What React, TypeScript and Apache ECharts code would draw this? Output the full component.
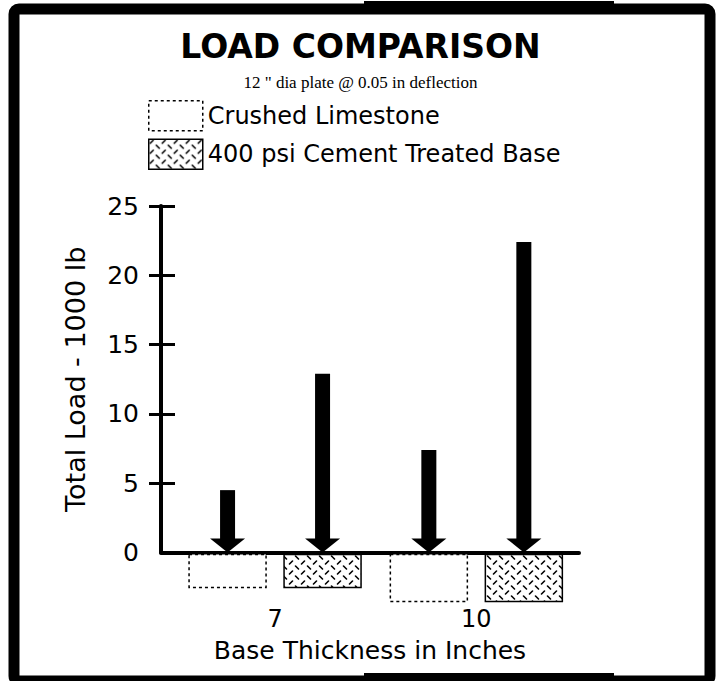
import React, { useEffect, useRef } from 'react';
import * as echarts from 'echarts';

// ---- data ----
const thicknessInches = [7, 10]; // base thickness categories (in)
const seriesNames = ['Crushed Limestone', '400 psi Cement Treated Base'];
const crushedLimestoneLoad = [4.5, 7.4]; // total load, 1000 lb
const cementTreatedLoad = [12.9, 22.4]; // total load, 1000 lb
const loadTickValues = [5, 10, 15, 20, 25];
const titleText = 'LOAD COMPARISON';
const subtitleText = '12 " dia plate @ 0.05 in deflection';
const yAxisName = 'Total Load - 1000 lb';
const xAxisName = 'Base Thickness in Inches';

const FONT = 'DejaVu Sans';

const hatchSvg =
  '<svg xmlns="http://www.w3.org/2000/svg" width="12" height="10">' +
  '<g stroke="#000" stroke-width="1.6" stroke-linecap="round" fill="none">' +
  '<line x1="1.5" y1="4" x2="4.5" y2="1"/>' +
  '<line x1="7.5" y1="6" x2="10.5" y2="9"/>' +
  '</g></svg>';
const hatchFill: any = {
  image: 'data:image/svg+xml;charset=utf-8,' + encodeURIComponent(hatchSvg),
  repeat: 'repeat',
  imageWidth: 12,
  imageHeight: 10,
};

const ARROW_OFFSET = 47.5;
const BOX_W = 77;

function arrowSeries(name: string, values: number[], offset: number) {
  return {
    type: 'custom',
    name,
    xAxisIndex: 0,
    yAxisIndex: 0,
    data: thicknessInches.map((t, i) => [t, values[i]]),
    itemStyle: { color: '#000' },
    renderItem: (_params: any, api: any) => {
      const top = api.coord([api.value(0), api.value(1)]);
      const base = api.coord([api.value(0), 0]);
      const cx = top[0] + offset;
      const headH = 14;
      const shaftW = 15;
      const headW = 35;
      return {
        type: 'group',
        children: [
          {
            type: 'rect',
            shape: { x: cx - shaftW / 2, y: top[1], width: shaftW, height: base[1] - headH - top[1] + 1 },
            style: { fill: '#000' },
          },
          {
            type: 'polygon',
            shape: {
              points: [
                [cx - headW / 2, base[1] - headH],
                [cx + headW / 2, base[1] - headH],
                [cx, base[1]],
              ],
            },
            style: { fill: '#000' },
          },
        ],
      };
    },
  };
}

function boxSeries(name: string, offset: number, fill: any, dashed: boolean) {
  return {
    type: 'custom',
    name,
    xAxisIndex: 1,
    yAxisIndex: 2,
    data: thicknessInches.map((t) => [t, t]),
    itemStyle: { color: fill, borderColor: '#000', borderWidth: 1.5, borderType: dashed ? [3, 3] : 'solid' },
    renderItem: (_params: any, api: any) => {
      const p0 = api.coord([api.value(0), 0]);
      const p1 = api.coord([api.value(0), api.value(1)]);
      return {
        type: 'rect',
        shape: { x: p0[0] + offset - BOX_W / 2, y: p0[1], width: BOX_W, height: p1[1] - p0[1] },
        style: { fill, stroke: '#000', lineWidth: 1.5, lineDash: dashed ? [3, 3] : null },
      };
    },
  };
}

export default function App() {
  const ref = useRef<HTMLDivElement>(null);
  useEffect(() => {
    if (!ref.current) return;
    const chart = echarts.init(ref.current, null, { renderer: 'svg' });
    const xMin = 5.3;
    const xMax = 11.53;
    chart.setOption({
      animation: false,
      backgroundColor: '#fff',
      title: {
        text: titleText,
        subtext: subtitleText,
        left: 'center',
        top: 30,
        itemGap: 11,
        padding: 0,
        textStyle: { fontFamily: FONT, fontWeight: 'bold', fontSize: 33, color: '#000' },
        subtextStyle: { fontFamily: 'Liberation Serif', fontSize: 17, color: '#000' },
      },
      legend: {
        orient: 'vertical',
        left: 148,
        top: 100,
        padding: 0,
        itemWidth: 54,
        itemHeight: 30,
        itemGap: 7,
        icon: 'rect',
        selectedMode: false,
        textStyle: { fontFamily: FONT, fontSize: 24, color: '#000' },
        data: [
          { name: seriesNames[0], itemStyle: { color: '#fff', borderColor: '#000', borderWidth: 1.5, borderType: [3, 3] } },
          { name: seriesNames[1], itemStyle: { color: hatchFill, borderColor: '#000', borderWidth: 1.5 } },
        ],
      },
      grid: [
        { left: 161, right: 142, top: 206, bottom: 128.5, outerBoundsMode: 'none', containLabel: false },
        { left: 161, right: 142, top: 554.5, height: 47, outerBoundsMode: 'none', containLabel: false },
      ],
      xAxis: [
        {
          type: 'value',
          gridIndex: 0,
          min: xMin,
          max: xMax,
          axisLine: { show: true, onZero: true, lineStyle: { color: '#000', width: 4 } },
          axisTick: { show: false },
          axisLabel: { show: false },
          splitLine: { show: false },
        },
        {
          type: 'value',
          gridIndex: 1,
          min: xMin,
          max: xMax,
          axisLine: { show: false },
          axisTick: { show: false },
          splitLine: { show: false },
          axisLabel: {
            show: true,
            customValues: thicknessInches,
            margin: 5,
            fontFamily: FONT,
            fontSize: 24,
            color: '#000',
          },
          name: xAxisName,
          nameLocation: 'middle',
          nameGap: 36,
          nameTextStyle: { fontFamily: FONT, fontSize: 25, color: '#000' },
        },
      ],
      yAxis: [
        {
          type: 'value',
          gridIndex: 0,
          min: 0,
          max: 25,
          interval: 5,
          position: 'left',
          axisLine: { show: true, lineStyle: { color: '#000', width: 4 } },
          axisTick: { show: true, inside: false, length: 12, customValues: loadTickValues, lineStyle: { color: '#000', width: 3 } },
          axisLabel: { show: true, margin: 22, fontFamily: FONT, fontSize: 25, color: '#000' },
          splitLine: { show: false },
          name: yAxisName,
          nameLocation: 'middle',
          nameGap: 72,
          nameRotate: 90,
          nameTextStyle: { fontFamily: FONT, fontSize: 27, color: '#000' },
        },
        {
          type: 'value',
          gridIndex: 0,
          min: 0,
          max: 25,
          interval: 5,
          position: 'left',
          axisLine: { show: false },
          axisTick: { show: true, inside: true, length: 14, customValues: loadTickValues, lineStyle: { color: '#000', width: 3 } },
          axisLabel: { show: false },
          splitLine: { show: false },
        },
        {
          type: 'value',
          gridIndex: 1,
          min: 0,
          max: 10,
          inverse: true,
          show: false,
        },
      ],
      graphic: [
        {
          type: 'rect',
          silent: true,
          z: 100,
          shape: { x: 14, y: 9, width: 696, height: 672, r: 5 },
          style: { fill: 'none', stroke: '#000', lineWidth: 11 },
        },
        {
          type: 'rect',
          silent: true,
          z: 100,
          shape: { x: 364, y: 1, width: 250, height: 8 },
          style: { fill: '#000' },
        },
        {
          type: 'rect',
          silent: true,
          z: 100,
          shape: { x: 364, y: 673, width: 250, height: 8 },
          style: { fill: '#000' },
        },
      ],
      series: [
        boxSeries(seriesNames[0], -ARROW_OFFSET, '#fff', true),
        boxSeries(seriesNames[1], ARROW_OFFSET, hatchFill, false),
        arrowSeries(seriesNames[0] + ' load', crushedLimestoneLoad, -ARROW_OFFSET),
        arrowSeries(seriesNames[1] + ' load', cementTreatedLoad, ARROW_OFFSET),
      ],
    });
    return () => chart.dispose();
  }, []);
  return (
    <div
      ref={ref}
      style={{ position: 'fixed', left: 0, top: 0, width: 721, height: 681, background: '#fff' }}
    />
  );
}
